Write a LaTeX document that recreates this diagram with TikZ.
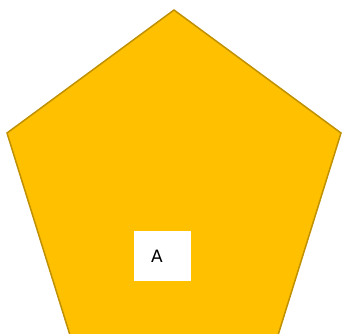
\documentclass[tikz,border=0pt]{standalone}
\usepackage{fontspec}
\setmainfont{DejaVu Sans}
\definecolor{gold}{HTML}{FFC000}
\definecolor{goldline}{HTML}{BF9000}
\begin{document}
\begin{tikzpicture}[x=1pt,y=-1pt,
  shapestyle/.style={fill=gold,draw=goldline,line width=1.5pt,line join=miter},
  labelbox/.style={fill=white,draw=none,minimum width=57pt,minimum height=50pt,inner sep=0pt},
  labeltext/.style={font=\fontsize{17}{20}\selectfont,inner sep=0pt}]
\useasboundingbox (0,0) rectangle (342,333);
\begin{scope}
\clip (0,0) rectangle (342,333);
\coordinate (t) at (174,10);
\coordinate (r) at (341,133);
\coordinate (br) at (276.5,340);
\coordinate (bl) at (71.5,340);
\coordinate (l) at (7,133);
\draw[shapestyle] (t) -- (r) -- (br) -- (bl) -- (l) -- cycle;
\end{scope}
\node[labelbox] (box) at (162.5,256) {};
\node[labeltext] (a) at (157,256) {A};
\end{tikzpicture}
\end{document}
